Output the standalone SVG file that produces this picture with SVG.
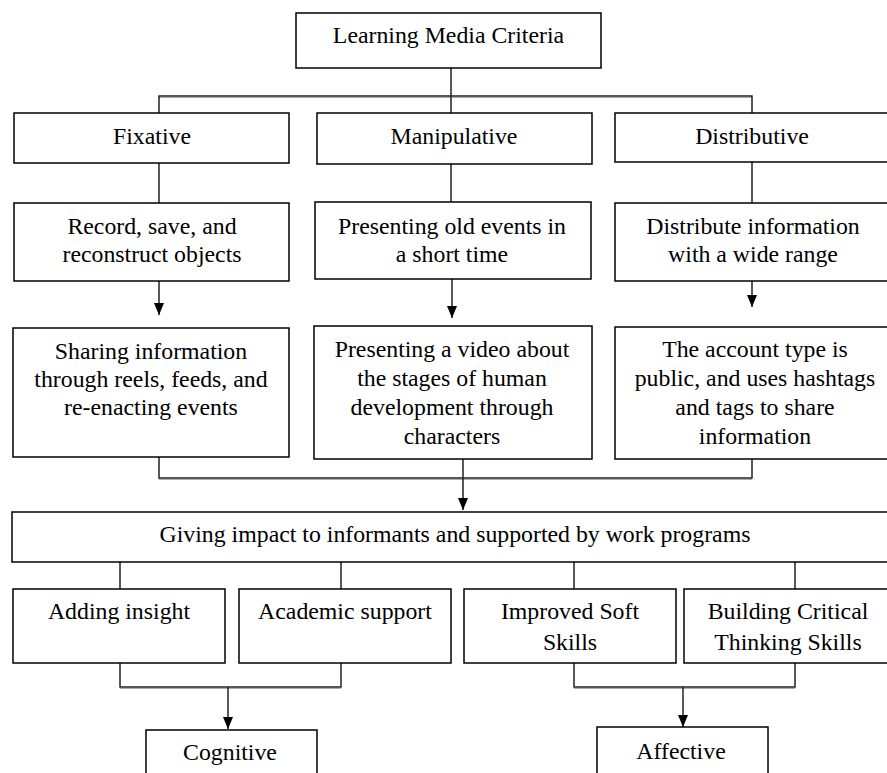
<svg xmlns="http://www.w3.org/2000/svg" width="887" height="773" viewBox="0 0 887 773">
<defs>
<style>
.box{fill:#fff;stroke:#000;stroke-width:1.5}
.t{font-family:"Liberation Serif","Times New Roman",serif;font-size:23.8px;fill:#000;text-anchor:middle}
.ln{fill:none;stroke:#222;stroke-width:1.5}
.sh{fill:none;stroke:#aaa;stroke-width:1}
</style>
<marker id="ah" viewBox="0 0 12 10" refX="12" refY="5" markerWidth="12" markerHeight="10" markerUnits="userSpaceOnUse" orient="auto">
<path d="M0,0 L12,5 L0,10 z" fill="#000"/>
</marker>
</defs>
<rect width="887" height="773" fill="#fff"/>

<g id="connectors">
<path class="sh" d="M159,97.5 H752"/>
<path class="ln" d="M451,68 V113 M159,113 V96 H752 V113"/>
<path class="ln" d="M159,163 V203 M451,164 V202 M752,162 V203"/>
<path class="ln" d="M159,281 V315" marker-end="url(#ah)"/>
<path class="ln" d="M452,279 V318" marker-end="url(#ah)"/>
<path class="ln" d="M752,281 V307" marker-end="url(#ah)"/>
<path class="sh" d="M159,479.5 H752"/>
<path class="ln" d="M159,457 V478 H752 V459"/>
<path class="ln" d="M463,449 V510" marker-end="url(#ah)"/>
<path class="ln" d="M120,562 V589 M341,562 V589 M574,562 V589 M795,562 V589"/>
<path class="sh" d="M120,688.5 H341 M574,688.5 H795"/>
<path class="ln" d="M120,663 V687 H341 V663 M574,663 V687 H795 V663"/>
<path class="ln" d="M228,687 V729" marker-end="url(#ah)"/>
<path class="ln" d="M683,687 V727" marker-end="url(#ah)"/>
</g>

<g id="n-root"><rect class="box" x="296" y="13" width="305" height="55"/><text class="t" x="448.5" y="43">Learning Media Criteria</text></g>

<g id="n-fixative"><rect class="box" x="14" y="113" width="275" height="50"/><text class="t" x="152" y="144">Fixative</text></g>
<g id="n-manipulative"><rect class="box" x="317" y="113" width="275" height="51"/><text class="t" x="454" y="144">Manipulative</text></g>
<g id="n-distributive"><rect class="box" x="615" y="113" width="280" height="49"/><text class="t" x="752" y="144">Distributive</text></g>

<g id="n-record"><rect class="box" x="14" y="203" width="275" height="78"/><text class="t" x="152" y="234">Record, save, and</text><text class="t" x="152" y="262">reconstruct objects</text></g>
<g id="n-presenting-old"><rect class="box" x="315" y="202" width="276" height="77"/><text class="t" x="452" y="234">Presenting old events in</text><text class="t" x="452" y="262">a short time</text></g>
<g id="n-distribute"><rect class="box" x="615" y="203" width="280" height="78"/><text class="t" x="753" y="234">Distribute information</text><text class="t" x="753" y="262">with a wide range</text></g>

<g id="n-sharing"><rect class="box" x="13" y="328" width="276" height="129"/><text class="t" x="151" y="359">Sharing information</text><text class="t" x="151" y="387">through reels, feeds, and</text><text class="t" x="151" y="415">re-enacting events</text></g>
<g id="n-video"><rect class="box" x="314" y="326" width="278" height="133"/><text class="t" x="452" y="357">Presenting a video about</text><text class="t" x="452" y="386">the stages of human</text><text class="t" x="452" y="415">development through</text><text class="t" x="452" y="444">characters</text></g>
<g id="n-account"><rect class="box" x="615" y="327" width="280" height="132"/><text class="t" x="755" y="357">The account type is</text><text class="t" x="755" y="386">public, and uses hashtags</text><text class="t" x="755" y="415">and tags to share</text><text class="t" x="755" y="444">information</text></g>

<g id="n-impact"><rect class="box" x="12" y="512" width="885" height="50"/><text class="t" x="455" y="542">Giving impact to informants and supported by work programs</text></g>

<g id="n-insight"><rect class="box" x="13" y="589" width="212" height="74"/><text class="t" x="119" y="619">Adding insight</text></g>
<g id="n-academic"><rect class="box" x="239" y="589" width="212" height="74"/><text class="t" x="345" y="619">Academic support</text></g>
<g id="n-soft"><rect class="box" x="464" y="589" width="212" height="74"/><text class="t" x="570" y="619">Improved Soft</text><text class="t" x="570" y="650">Skills</text></g>
<g id="n-critical"><rect class="box" x="684" y="589" width="210" height="74"/><text class="t" x="788" y="619">Building Critical</text><text class="t" x="788" y="650">Thinking Skills</text></g>

<g id="n-cognitive"><rect class="box" x="146" y="730" width="171" height="60"/><text class="t" x="230" y="760">Cognitive</text></g>
<g id="n-affective"><rect class="box" x="597" y="727" width="171" height="60"/><text class="t" x="681" y="759">Affective</text></g>
</svg>
